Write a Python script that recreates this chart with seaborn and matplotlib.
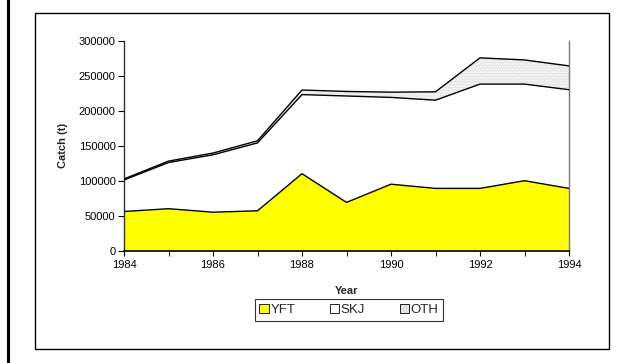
import matplotlib
matplotlib.use("Agg")
import matplotlib.pyplot as plt
from matplotlib.patches import Rectangle, Patch
from matplotlib.lines import Line2D
import numpy as np
import pandas as pd
import seaborn as sns

years = [1984, 1985, 1986, 1987, 1988, 1989, 1990, 1991, 1992, 1993, 1994]
yft = [56000, 60000, 55000, 57000, 110000, 69000, 95000, 89000, 89000, 100000, 89000]
skj = [45000, 66000, 82000, 97000, 113000, 152000, 124000, 126000, 149000, 138000, 141000]
oth = [1500, 2000, 2500, 3000, 6500, 6500, 7500, 12000, 37500, 34500, 34000]

series_names = ["YFT", "SKJ", "OTH"]
fill_colors = ["#ffff00", "#ffffff", "#e4e4e4"]
y_ticks = [0, 50000, 100000, 150000, 200000, 250000, 300000]
x_ticks = [1984, 1986, 1988, 1990, 1992, 1994]

df = pd.DataFrame({"Year": years, "YFT": yft, "SKJ": skj, "OTH": oth})
df["c1"] = df["YFT"]
df["c2"] = df["c1"] + df["SKJ"]
df["c3"] = df["c2"] + df["OTH"]

sns.set_theme(style="white")
plt.rcParams["font.family"] = ["Liberation Sans", "DejaVu Sans"]
plt.rcParams["hatch.color"] = "#d0d0d0"

W, H = 623, 363
fig = plt.figure(figsize=(W / 100, H / 100), dpi=100)
fig.patch.set_facecolor("white")

# page rule on the left and chart frame
fig.add_artist(Line2D([7.5 / W, 7.5 / W], [0, 1], transform=fig.transFigure,
                      color="black", lw=2.2))
fig.add_artist(Rectangle((35 / W, 1 - 349 / H), (609 - 35) / W, (349 - 13) / H,
                         transform=fig.transFigure, fill=False,
                         edgecolor="black", lw=1.0))

ax = fig.add_axes([124 / W, 1 - 250.7 / H, (569 - 124) / W, (250.7 - 40.7) / H])

x = df["Year"].to_numpy()
ax.fill_between(x, 0, df["c1"], facecolor=fill_colors[0], edgecolor="none", zorder=1)
ax.fill_between(x, df["c1"], df["c2"], facecolor=fill_colors[1], edgecolor="none", zorder=1)
ax.fill_between(x, df["c2"], df["c3"], facecolor=fill_colors[2], edgecolor="none",
                hatch="......", zorder=1)

for col in ["c1", "c2", "c3"]:
    sns.lineplot(data=df, x="Year", y=col, ax=ax, color="black", lw=1.0, zorder=3)

ax.set_xlim(1984, 1994)
ax.set_ylim(0, 300000)
ax.set_xticks(x_ticks)
ax.set_xticks(years, minor=True)
ax.set_yticks(y_ticks)
ax.set_yticklabels([str(v) for v in y_ticks])
ax.tick_params(axis="both", labelsize=8, colors="black")
ax.tick_params(axis="x", which="both", direction="inout", length=7, width=0.8, pad=3)
ax.tick_params(axis="y", direction="out", length=4, width=0.8, pad=2)
ax.tick_params(left=True, bottom=True)
ax.tick_params(axis="x", which="minor", bottom=True)

ax.set_xlabel("Year", fontsize=8, fontweight="bold", labelpad=12)
ax.set_ylabel("Catch (t)", fontsize=8, fontweight="bold", labelpad=8)

ax.spines["top"].set_visible(False)
ax.spines["left"].set_color("#333333")
ax.spines["left"].set_linewidth(1.0)
ax.spines["bottom"].set_color("black")
ax.spines["bottom"].set_linewidth(1.2)
ax.spines["right"].set_color("#777777")
ax.spines["right"].set_linewidth(1.0)
ax.set_facecolor("white")

handles = [Patch(facecolor=c, edgecolor="black", lw=0.6) for c in fill_colors]
leg = fig.legend(handles, series_names, loc="center", ncol=3,
                 bbox_to_anchor=(349 / W, 1 - 310 / H), fontsize=9.5,
                 frameon=True, fancybox=False, handlelength=0.7, handleheight=0.7,
                 handletextpad=0.15, columnspacing=2.6, borderpad=0.35,
                 borderaxespad=0)
leg.get_frame().set_edgecolor("black")
leg.get_frame().set_linewidth(0.8)

fig.savefig("out.png", dpi=100)
